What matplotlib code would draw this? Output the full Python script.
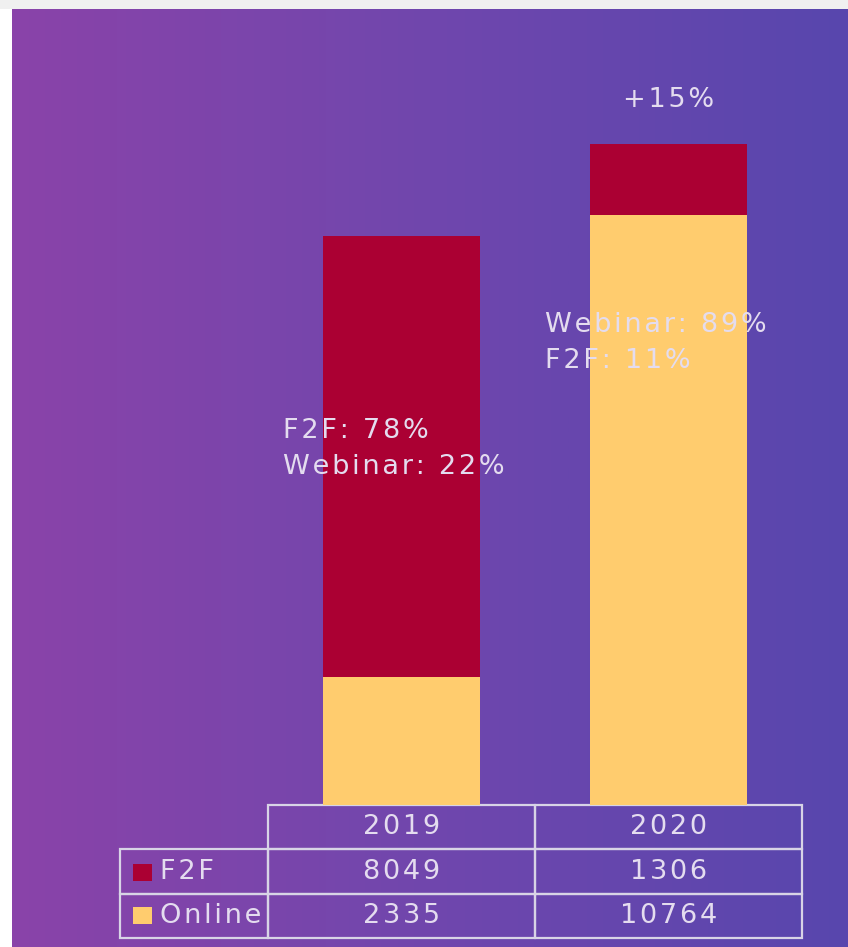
import numpy as np
import matplotlib
matplotlib.use("Agg")
import matplotlib.pyplot as plt
from matplotlib.patches import Rectangle
from matplotlib.colors import LinearSegmentedColormap

# ---- data ----
years = ["2019", "2020"]
series_names = ["F2F", "Online"]
f2f = [8049, 1306]
online = [2335, 10764]
growth_label = "+15%"

# ---- style ----
F2F_COLOR = "#ab0033"
ONLINE_COLOR = "#ffcc6e"
TEXT_COLOR = "#e4dcef"
GRID_COLOR = "#d8d4e6"
BG_LEFT, BG_MID, BG_RIGHT = "#8a43a9", "#7047ad", "#5846ae"
FONT = ["DejaVu Sans"]
FS = 19.5
HAIR = "\u200a"


def spaced(s):
    """Loose letter spacing: a hair space between characters."""
    return HAIR.join(s)


W, H = 848, 947
fig = plt.figure(figsize=(W / 100, H / 100), dpi=100, facecolor="#f0f0f0")

# white margin strip on the left
fig.patches.append(Rectangle((0, 0), 12 / W, 938 / H, transform=fig.transFigure,
                             facecolor="white", edgecolor="none", zorder=0))

# gradient backdrop
bg = fig.add_axes([12 / W, 0, (W - 12) / W, 938 / H])
cmap = LinearSegmentedColormap.from_list("bg", [BG_LEFT, BG_MID, BG_RIGHT])
bg.imshow(np.linspace(0, 1, 512)[None, :], cmap=cmap, aspect="auto",
          extent=[0, 1, 0, 1])
bg.set_axis_off()

# main plot area
ax_l, ax_r, ax_b, ax_t = 268, 802, 805, 60
ax = fig.add_axes([ax_l / W, (H - ax_b) / H, (ax_r - ax_l) / W, (ax_b - ax_t) / H])
ax.patch.set_alpha(0)
for s in ax.spines.values():
    s.set_visible(False)
ax.set_xticks([])
ax.set_yticks([])

x = np.arange(len(years))
totals = np.array(f2f) + np.array(online)
ymax = 13597
ax.set_xlim(-0.5, len(years) - 0.5)
ax.set_ylim(0, ymax)

bw = 0.59
ax.bar(x, online, width=bw, color=ONLINE_COLOR, zorder=2)
ax.bar(x, f2f, width=bw, bottom=online, color=F2F_COLOR, zorder=2)

text_kw = dict(color=TEXT_COLOR, fontsize=FS, family=FONT)

# share annotations
pct_f2f = [round(100 * a / t) for a, t in zip(f2f, totals)]
pct_web = [round(100 * b / t) for b, t in zip(online, totals)]
ax.text(-0.444, 6497,
        spaced(f"F2F: {pct_f2f[0]}%") + "\n" + spaced(f"Webinar: {pct_web[0]}%"),
        ha="left", va="center", linespacing=1.5, zorder=3, **text_kw)
ax.text(0.537, 8432,
        spaced(f"Webinar: {pct_web[1]}%") + "\n" + spaced(f"F2F: {pct_f2f[1]}%"),
        ha="left", va="center", linespacing=1.5, zorder=3, **text_kw)
ax.text(x[1], 12868, spaced(growth_label), ha="center", va="center",
        zorder=3, **text_kw)

# data table under the bars
ax_h = ax_b - ax_t
ax_w = ax_r - ax_l
cell_text = [[""] + [spaced(y) for y in years],
             [spaced(series_names[0])] + [spaced(str(v)) for v in f2f],
             [spaced(series_names[1])] + [spaced(str(v)) for v in online]]
tbl = ax.table(cellText=cell_text, colWidths=[148, 267, 267],
               cellLoc="center",
               bbox=[-148 / ax_w, -(938 - 805) / ax_h, 682 / ax_w, 133 / ax_h])
tbl.auto_set_font_size(False)
for (r, c), cell in tbl.get_celld().items():
    cell.set_facecolor("none")
    cell.set_edgecolor(GRID_COLOR)
    cell.set_linewidth(1.6)
    t = cell.get_text()
    t.set_color(TEXT_COLOR)
    t.set_fontsize(FS)
    t.set_family(FONT)
    if r == 0 and c == 0:
        cell.visible_edges = ""
    elif c == 0:
        t.set_ha("left")
        cell.PAD = 40 / 148

# legend swatches in the row-label cells
for yc, col in [(872, F2F_COLOR), (915, ONLINE_COLOR)]:
    ax.add_patch(Rectangle(((133 - ax_l) / ax_w, (ax_b - yc - 8.5) / ax_h),
                           19 / ax_w, 17 / ax_h, transform=ax.transAxes,
                           facecolor=col, edgecolor="none", clip_on=False,
                           zorder=4))

fig.savefig("out.png", dpi=100, facecolor=fig.get_facecolor())
